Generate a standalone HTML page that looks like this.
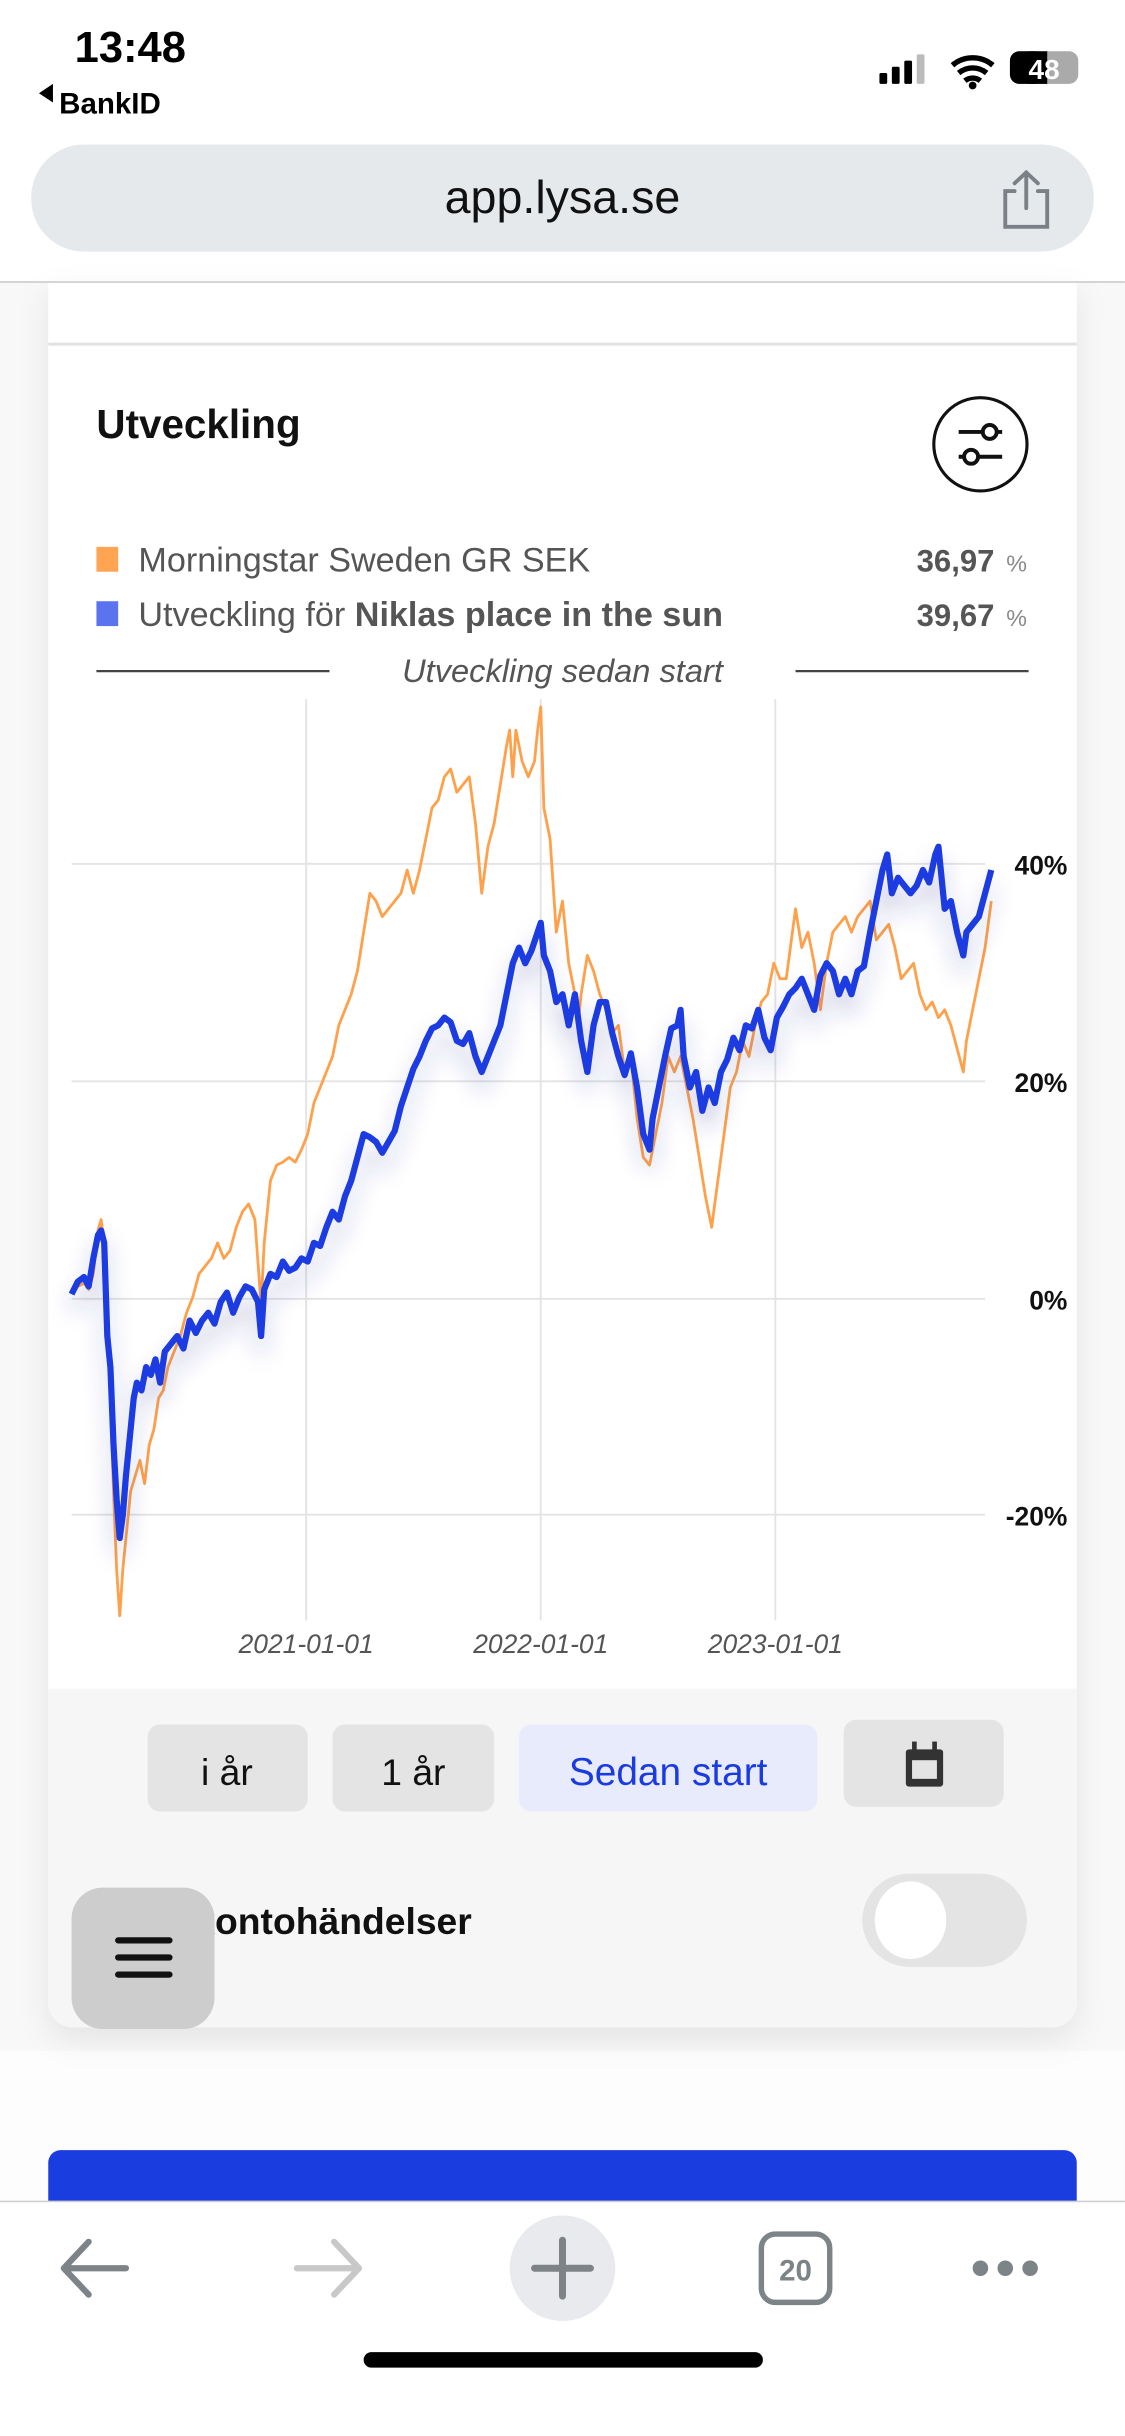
<!DOCTYPE html>
<html><head><meta charset="utf-8"><style>
html,body{margin:0;padding:0;background:#fff;width:1125px;height:2436px;overflow:hidden}
svg{display:block}
text{font-family:"Liberation Sans","DejaVu Sans",sans-serif}
</style></head><body>
<svg width="1125" height="2436" viewBox="0 0 724 1568" xmlns="http://www.w3.org/2000/svg">
<defs>
<filter id="sh" x="-10%" y="-10%" width="120%" height="130%">
<feDropShadow dx="0" dy="10" stdDeviation="7" flood-color="#2a3a9a" flood-opacity="0.28"/>
</filter>
<filter id="cs" x="-10%" y="-10%" width="120%" height="120%">
<feDropShadow dx="0" dy="8" stdDeviation="10" flood-color="#000" flood-opacity="0.08"/>
</filter>
</defs>
<rect x="0" y="0" width="724" height="1568" fill="#fff"/>
<!-- page bg -->
<rect x="0" y="181" width="724" height="1236" fill="#f8f8f8"/>
<rect x="0" y="1320" width="724" height="97" fill="#fdfdfd"/>
<!-- card -->
<path d="M31 181 H693 V1289 a16 16 0 0 1 -16 16 H47 a16 16 0 0 1 -16 -16 Z" fill="#fff" filter="url(#cs)"/>
<path d="M31 1087 H693 V1289 a16 16 0 0 1 -16 16 H47 a16 16 0 0 1 -16 -16 Z" fill="#f6f6f6"/>
<line x1="31" y1="221.5" x2="693" y2="221.5" stroke="#e2e2e2" stroke-width="2"/>
<!-- status bar -->
<text x="48" y="40" font-size="28" font-weight="bold" fill="#000">13:48</text>
<path d="M25 60 L34 54 V66 Z" fill="#000"/>
<text x="38" y="73" font-size="19" font-weight="bold" fill="#000">BankID</text>
<rect x="566" y="47" width="5" height="7" rx="1" fill="#000"/>
<rect x="574" y="43" width="5" height="11" rx="1" fill="#000"/>
<rect x="582" y="39" width="5" height="15" rx="1" fill="#000"/>
<rect x="590" y="35" width="5" height="19" rx="1" fill="#bbb"/>
<path d="M613 42 a20 20 0 0 1 26 0 M617 47 a14 14 0 0 1 18 0 M621 52 a8 8 0 0 1 10 0" stroke="#000" stroke-width="3.5" fill="none"/>
<circle cx="626" cy="55" r="2.5" fill="#000"/>
<rect x="650" y="33" width="44" height="21" rx="6" fill="#aaa"/>
<rect x="650" y="33" width="22" height="21" rx="6" fill="#000"/>
<rect x="662" y="33" width="12" height="21" fill="#000"/>
<text x="672" y="51" font-size="18" font-weight="bold" fill="#fff" text-anchor="middle">48</text>
<!-- url bar -->
<rect x="20" y="93" width="684" height="69" rx="34" fill="#e6e9ec"/>
<text x="362" y="137" font-size="30" fill="#111" text-anchor="middle">app.lysa.se</text>
<path d="M653 123 H647 V146 H674 V123 H668 M660.5 134 V111 M653 118 L660.5 111 L668 118" stroke="#7b8086" stroke-width="2.5" fill="none" stroke-linecap="round"/>
<line x1="0" y1="181.5" x2="724" y2="181.5" stroke="#c8c8c8" stroke-width="1"/>
<!-- title -->
<text x="62" y="282" font-size="26" font-weight="bold" fill="#111">Utveckling</text>
<circle cx="631" cy="286" r="30" fill="none" stroke="#111" stroke-width="2"/>
<path d="M617 278 H645 M617 294 H645" stroke="#111" stroke-width="2.5"/>
<circle cx="637" cy="278" r="4.5" fill="#fff" stroke="#111" stroke-width="2.5"/>
<circle cx="625" cy="294" r="4.5" fill="#fff" stroke="#111" stroke-width="2.5"/>
<!-- legend -->
<rect x="62" y="352" width="14" height="16" fill="#ffa552"/>
<text x="89" y="368" font-size="22" fill="#555">Morningstar Sweden GR SEK</text>
<text x="640" y="368" font-size="20" font-weight="bold" fill="#555" text-anchor="end">36,97</text>
<text x="661" y="368" font-size="15" fill="#888" text-anchor="end">%</text>
<rect x="62" y="387" width="14" height="16" fill="#5b73ee"/>
<text x="89" y="403" font-size="22" fill="#555">Utveckling för <tspan font-weight="bold">Niklas place in the sun</tspan></text>
<text x="640" y="403" font-size="20" font-weight="bold" fill="#555" text-anchor="end">39,67</text>
<text x="661" y="403" font-size="15" fill="#888" text-anchor="end">%</text>
<line x1="62" y1="432" x2="212" y2="432" stroke="#444" stroke-width="1.5"/>
<line x1="512" y1="432" x2="662" y2="432" stroke="#444" stroke-width="1.5"/>
<text x="362" y="439" font-size="21" font-style="italic" fill="#555" text-anchor="middle">Utveckling sedan start</text>
<!-- grid -->
<g stroke="#e3e3e3" stroke-width="1.2">
<line x1="46" y1="556" x2="634" y2="556"/><line x1="46" y1="696" x2="634" y2="696"/>
<line x1="46" y1="836" x2="634" y2="836"/><line x1="46" y1="975" x2="634" y2="975"/>
<line x1="197" y1="450" x2="197" y2="1043"/><line x1="348" y1="450" x2="348" y2="1043"/><line x1="499" y1="450" x2="499" y2="1043"/>
</g>
<g font-size="17" font-weight="bold" fill="#111" text-anchor="end">
<text x="687" y="563">40%</text><text x="687" y="703">20%</text><text x="687" y="843">0%</text><text x="687" y="982">-20%</text>
</g>
<g font-size="17" font-style="italic" fill="#555" text-anchor="middle">
<text x="197" y="1064">2021-01-01</text><text x="348" y="1064">2022-01-01</text><text x="499" y="1064">2023-01-01</text>
</g>
<!-- orange -->
<polyline fill="none" stroke="#ffa04a" stroke-width="1.8" stroke-linejoin="round" points="46,833 50,828 54,826 57,830 60,820 63,792 65,785 67,800 69,850 71,900 73,960 75,1010 77,1040 79,1010 81,990 84,960 87,950 90,940 93,955 96,930 99,920 102,900 105,895 108,880 112,870 116,860 120,845 124,835 128,820 132,815 136,810 140,800 144,810 148,805 152,790 156,780 160,775 164,785 168,840 170,800 174,760 178,750 182,748 186,745 190,748 194,740 198,730 202,710 206,700 210,690 214,680 218,660 222,650 226,640 230,625 234,600 238,575 242,580 246,590 250,585 254,580 258,575 262,560 266,575 270,560 274,540 278,520 282,515 286,500 290,495 294,510 298,505 302,500 306,530 310,575 314,545 318,530 322,505 326,480 328,470 330,500 332,470 336,490 340,500 344,490 346,470 348,455 350,520 354,540 358,600 362,580 366,620 370,640 372,660 374,640 378,615 382,625 386,640 390,650 394,665 398,660 402,690 406,680 410,720 414,745 418,750 422,730 426,710 430,680 434,690 438,680 442,700 446,720 450,745 454,770 458,790 462,760 466,730 470,700 474,690 478,670 482,680 486,660 490,645 494,640 498,620 502,630 506,630 510,600 512,585 516,610 520,600 524,620 528,650 532,620 536,600 540,595 544,590 548,600 552,590 556,585 560,580 564,605 568,600 572,595 576,610 580,630 584,625 588,620 592,640 596,650 600,645 604,655 608,650 612,660 616,675 620,690 622,670 626,650 630,630 634,610 638,580"/>
<!-- blue -->
<polyline filter="url(#sh)" fill="none" stroke="#1a3be0" stroke-width="4" stroke-linejoin="round" points="46,833 50,825 54,822 57,828 60,810 63,795 65,792 67,800 69,860 71,880 73,930 75,965 77,990 79,975 81,950 84,920 86,900 88,890 91,895 94,880 97,885 100,875 103,890 106,870 110,865 114,860 118,868 122,850 126,858 130,850 134,845 138,852 142,838 146,832 150,845 154,835 158,828 162,830 166,838 168,860 170,830 174,820 178,822 182,812 186,818 190,816 194,810 198,812 202,800 206,802 210,790 214,780 218,785 222,770 226,760 230,745 234,730 238,732 242,735 246,742 250,735 254,728 258,712 262,700 266,688 270,680 274,670 278,662 282,660 286,655 290,658 294,670 298,672 302,665 306,680 310,690 314,680 318,670 322,660 326,640 330,620 334,610 338,620 342,612 346,600 348,594 350,615 354,625 358,645 362,640 366,660 370,640 374,670 378,690 382,660 386,645 390,645 394,665 398,680 402,692 406,678 410,700 414,730 418,740 420,720 424,700 428,680 432,662 436,660 438,650 440,680 444,700 448,690 452,715 456,700 460,710 464,690 468,682 472,668 476,676 480,660 484,662 488,650 492,668 496,676 500,655 504,648 508,640 512,636 516,630 520,640 524,650 528,628 532,620 536,625 540,640 544,630 548,640 552,625 556,622 560,600 564,580 568,560 571,550 574,575 578,565 582,570 586,575 590,570 594,560 598,568 602,550 604,545 606,565 608,585 612,580 616,600 620,615 622,600 626,595 630,590 634,575 638,560"/>
<!-- buttons -->
<rect x="95" y="1110" width="103" height="56" rx="8" fill="#e4e4e4"/>
<text x="146" y="1149" font-size="24" fill="#111" text-anchor="middle">i år</text>
<rect x="214" y="1110" width="104" height="56" rx="8" fill="#e4e4e4"/>
<text x="266" y="1149" font-size="24" fill="#111" text-anchor="middle">1 år</text>
<rect x="334" y="1110" width="192" height="56" rx="8" fill="#e8ebfb"/>
<text x="430" y="1149" font-size="25" fill="#1a3be0" text-anchor="middle">Sedan start</text>
<rect x="543" y="1107" width="103" height="56" rx="8" fill="#e4e4e4"/>
<rect x="583" y="1126" width="24" height="24" rx="2" fill="#333"/>
<rect x="587" y="1133" width="16" height="12" fill="#e4e4e4"/>
<rect x="587" y="1121" width="3" height="7" fill="#333"/><rect x="600" y="1121" width="3" height="7" fill="#333"/>
<text x="125" y="1245" font-size="24" font-weight="bold" fill="#111">kontohändelser</text>
<rect x="555" y="1206" width="106" height="60" rx="30" fill="#e4e4e4"/>
<ellipse cx="586" cy="1236" rx="23" ry="25" fill="#fff"/>
<rect x="46" y="1215" width="92" height="91" rx="20" fill="#cdcdcd"/>
<path d="M76 1249 H109 M76 1260 H109 M76 1271 H109" stroke="#111" stroke-width="4" stroke-linecap="round"/>
<!-- blue button -->
<rect x="31" y="1384" width="662" height="50" rx="8" fill="#1a3de0"/>
<!-- toolbar -->
<rect x="0" y="1417" width="724" height="151" fill="#fff"/>
<line x1="0" y1="1417" x2="724" y2="1417" stroke="#cfcfcf" stroke-width="1"/>
<path d="M81 1460 H42 M57 1443 L41 1460 L57 1477" stroke="#7d8487" stroke-width="4" fill="none" stroke-linecap="round" stroke-linejoin="round"/>
<path d="M191 1460 H230 M215 1443 L231 1460 L215 1477" stroke="#c8c8c8" stroke-width="4" fill="none" stroke-linecap="round" stroke-linejoin="round"/>
<circle cx="362" cy="1460" r="34" fill="#e8eaed"/>
<path d="M362 1442 V1478 M344 1460 H380" stroke="#7d8487" stroke-width="4.5" stroke-linecap="round"/>
<rect x="490" y="1438" width="44" height="44" rx="9" fill="none" stroke="#7d8487" stroke-width="3.5"/>
<text x="512" y="1468" font-size="19" font-weight="bold" fill="#7d8487" text-anchor="middle">20</text>
<circle cx="631" cy="1460" r="5" fill="#7d8487"/><circle cx="647" cy="1460" r="5" fill="#7d8487"/><circle cx="663" cy="1460" r="5" fill="#7d8487"/>
<rect x="234" y="1514" width="257" height="10" rx="5" fill="#000"/>
</svg>
</body></html>
